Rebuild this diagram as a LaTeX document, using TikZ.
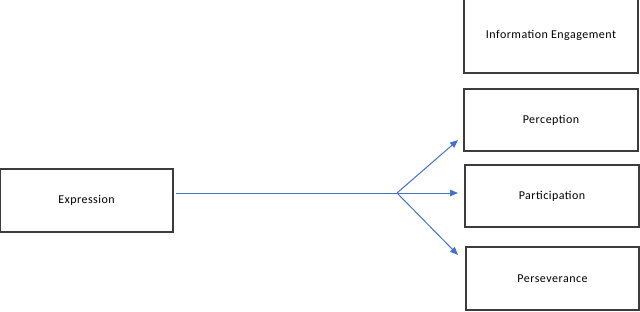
\documentclass[tikz,border=0pt]{standalone}
\usepackage{fontspec}
\setmainfont{Carlito}[LetterSpace=4]
\usepackage{tikz}
\usetikzlibrary{arrows.meta, positioning, calc}
\definecolor{linkblue}{RGB}{68,114,196}
\definecolor{boxgray}{RGB}{60,60,60}

\begin{document}
\begin{tikzpicture}[
					x=1pt, y=1pt,
					box/.style={rectangle, draw=boxgray, line width=1.1pt, minimum width=174pt, minimum height=62pt, align=center, font=\fontsize{12}{14}\selectfont},
					link/.style={-{Triangle[length=8pt, width=6.5pt]}, line width=1pt, color=linkblue},
					]
					\useasboundingbox (0,0) rectangle (640,-311);
					% Define nodes
					\node[box, minimum width=173pt, minimum height=63pt] (expr) at (86.5,-200.5) {Expression};
					\node[box, minimum height=76pt] (info) at (551,-35) {Information Engagement};
					\node[box] (perc) at (551,-120) {Perception};
					\node[box] (part) at (552,-196) {Participation};
					\node[box, minimum width=173pt, minimum height=63pt] (pers) at (552.5,-278.5) {Perseverance};
					
					% Branch point and arrow ends
					\coordinate (hub) at (397,-193);
					\coordinate (tip1) at (458,-140);
					\coordinate (tip2) at (458,-193);
					\coordinate (tip3) at (458,-255);
					
					% Arrows
					\draw[line width=1pt, linkblue] ([xshift=2pt]expr.east |- hub) -- (hub);
					\draw[link] (hub) -- (tip1);
					\draw[link] (hub) -- (tip2);
					\draw[link] (hub) -- (tip3);
				\end{tikzpicture}
\end{document}
